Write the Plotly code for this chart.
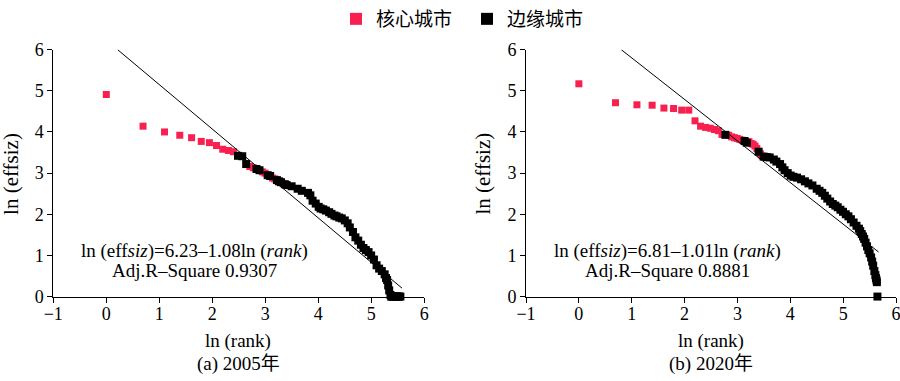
import numpy as np
import plotly.graph_objects as go

# ---------------- data ----------------
# 2005 panel: rank of city and ln(effsiz)
core_2005_rank = [1, 2, 3, 4, 5, 6, 7, 8, 9, 10, 11, 15, 16, 19, 20, 23, 24, 28]
core_2005_val = [4.91, 4.14, 4.00, 3.92, 3.86, 3.77, 3.74, 3.67, 3.58, 3.55, 3.52,
                 3.16, 3.13, 3.03, 3.00, 2.88, 2.86, 2.75]

edge_2005_rank = [12, 13, 14, 17, 18, 21, 22, 25, 26, 27, 29, 30, 33, 37, 40, 45, 47, 49,
                  52, 55, 57, 60, 63, 67, 70, 74, 77, 81, 85, 90, 95, 99, 105, 110, 116,
                  122, 128, 134, 141, 148, 156, 164, 172, 181, 191, 196, 200, 204, 208,
                  213, 216, 220, 225, 230, 235, 240, 245, 250, 257]
edge_2005_val = [3.42, 3.41, 3.22, 3.10, 3.07, 2.95, 2.93, 2.83, 2.80, 2.78, 2.73, 2.71,
                 2.68, 2.62, 2.57, 2.52, 2.46, 2.33, 2.26, 2.18, 2.14, 2.12, 2.09, 2.05,
                 2.01, 1.97, 1.95, 1.92, 1.90, 1.85, 1.78, 1.68, 1.57, 1.44, 1.36, 1.26,
                 1.18, 1.13, 1.08, 1.00, 0.90, 0.76, 0.68, 0.62, 0.54, 0.45, 0.40, 0.27,
                 0.15, 0.04, 0.0, 0.0, 0.0, 0.0, 0.0, 0.0, 0.0, 0.0, 0.0]

# 2020 panel
core_2020_rank = [1, 2, 3, 4, 5, 6, 7, 8, 9, 10, 11, 12, 13, 14, 15, 17, 18, 19, 20, 21,
                  22, 25, 26, 27, 28, 29, 31, 32]
core_2020_val = [5.17, 4.71, 4.66, 4.65, 4.58, 4.57, 4.53, 4.53, 4.27, 4.14, 4.11, 4.09,
                 4.06, 4.03, 3.94, 3.92, 3.88, 3.86, 3.84, 3.82, 3.80, 3.76, 3.72, 3.70,
                 3.66, 3.60, 3.47, 3.42]

edge_2020_rank = [16, 23, 24, 30, 33, 35, 37, 40, 42, 45, 47, 49, 52, 55, 58, 62, 67, 72,
                  77, 83, 90, 95, 100, 105, 110, 116, 122, 128, 134, 141, 148, 156, 164,
                  172, 181, 191, 200, 205, 211, 216, 221, 227, 233, 239, 245, 252, 257,
                  262, 268, 273, 276, 279, 281, 284]
edge_2020_val = [3.93, 3.78, 3.74, 3.52, 3.40, 3.39, 3.38, 3.33, 3.28, 3.22, 3.14, 3.07,
                 3.00, 2.94, 2.91, 2.89, 2.85, 2.80, 2.75, 2.70, 2.62, 2.57, 2.52, 2.45,
                 2.38, 2.31, 2.25, 2.21, 2.17, 2.11, 2.06, 2.00, 1.95, 1.88, 1.80, 1.72,
                 1.65, 1.59, 1.52, 1.46, 1.40, 1.31, 1.22, 1.13, 1.05, 0.95, 0.85, 0.75,
                 0.62, 0.52, 0.45, 0.40, 0.35, 0.0]

# fitted regressions: ln(effsiz) = a + b ln(rank), drawn over the shown x span
fit_intercept = [6.23, 6.81]
fit_slope = [-1.08, -1.01]
fit_x_span = [[0.21, 5.58], [0.80, 5.67]]
fit_r2 = ["0.9307", "0.8881"]
panel_labels = ["(a) 2005年", "(b) 2020年"]
series_names = ["核心城市", "边缘城市"]

RED = "#F7204F"
BLACK = "#000000"
SERIF = "Liberation Serif"
SERIF_CJK = "Liberation Serif, Noto Sans CJK SC"
CJK = "Noto Sans CJK SC"

W, H = 900, 381
def px(x):
    return x / W
def py(y):
    return 1 - y / H

fig = go.Figure()

panels = [
    (core_2005_rank, core_2005_val, edge_2005_rank, edge_2005_val),
    (core_2020_rank, core_2020_val, edge_2020_rank, edge_2020_val),
]

for i, (cr, cv, er, ev) in enumerate(panels):
    xa = "x" if i == 0 else "x2"
    ya = "y" if i == 0 else "y2"
    fig.add_trace(go.Scatter(
        x=np.log(cr), y=cv, mode="markers", name=series_names[0],
        marker=dict(symbol="square", size=7, color=RED, line=dict(width=0)),
        xaxis=xa, yaxis=ya, showlegend=(i == 0), legendgroup="core",
        cliponaxis=False))
    fig.add_trace(go.Scatter(
        x=np.log(er), y=ev, mode="markers", name=series_names[1],
        marker=dict(symbol="square", size=8, color=BLACK, line=dict(width=0)),
        xaxis=xa, yaxis=ya, showlegend=(i == 0), legendgroup="edge",
        cliponaxis=False))
    xs = np.array(fit_x_span[i])
    fig.add_trace(go.Scatter(
        x=xs, y=fit_intercept[i] + fit_slope[i] * xs, mode="lines",
        line=dict(color=BLACK, width=1), xaxis=xa, yaxis=ya,
        showlegend=False, cliponaxis=False, hoverinfo="skip"))

axis_common = dict(
    showgrid=False, zeroline=False, showline=True, linecolor="black", linewidth=1,
    ticks="outside", ticklen=5, tickcolor="black", tickwidth=1, automargin=False,
    tickfont=dict(family=SERIF, size=18, color="black"), dtick=1,
    ticklabeloverflow="allow",
)
ydom = [py(294.3), py(40.7)]
fig.update_layout(
    xaxis=dict(domain=[px(53.3), px(424.3)], range=[-1, 6], anchor="y",
               ticklabelstandoff=-4, **axis_common),
    yaxis=dict(domain=ydom, range=[0, 6], anchor="x", **axis_common),
    xaxis2=dict(domain=[px(526), px(896)], range=[-1, 6], anchor="y2",
                ticklabelstandoff=-4, **axis_common),
    yaxis2=dict(domain=ydom, range=[0, 6], anchor="x2", **axis_common),
)

annotations = []
x_offsets = [53.3, 526]
for i in range(2):
    x0 = x_offsets[i]
    annotations.append(dict(
        text="ln (effsiz)", x=px(x0 - 43), y=py(168), xref="paper", yref="paper",
        showarrow=False, textangle=-90, font=dict(family=SERIF, size=21, color="black"),
        xanchor="center", yanchor="middle"))
    annotations.append(dict(
        text="ln (rank)", x=px(x0 + 185), y=py(340), xref="paper", yref="paper",
        showarrow=False, font=dict(family=SERIF, size=19, color="black"),
        xanchor="center", yanchor="middle"))
    annotations.append(dict(
        text=panel_labels[i], x=px(x0 + 185), y=py(364), xref="paper", yref="paper",
        showarrow=False, font=dict(family=SERIF_CJK, size=19, color="black"),
        xanchor="center", yanchor="middle"))
    a = f"{fit_intercept[i]:.2f}"
    b = f"{abs(fit_slope[i]):.2f}"
    annotations.append(dict(
        text=f"ln (eff<i>siz</i>)={a}–{b}ln (<i>rank</i>)", x=px(x0 + 141), y=py(248),
        xref="paper", yref="paper", showarrow=False,
        font=dict(family=SERIF, size=19, color="black"), xanchor="center", yanchor="middle"))
    annotations.append(dict(
        text=f"Adj.R–Square {fit_r2[i]}", x=px(x0 + 141), y=py(268),
        xref="paper", yref="paper", showarrow=False,
        font=dict(family=SERIF, size=19, color="black"), xanchor="center", yanchor="middle"))

fig.update_layout(
    annotations=annotations,
    width=W, height=H,
    margin=dict(l=0, r=0, t=0, b=0),
    paper_bgcolor="white", plot_bgcolor="white",
    showlegend=True,
    legend=dict(orientation="h", x=px(336), xanchor="left", y=py(9), yanchor="middle",
                font=dict(family=CJK, size=19, color="black"),
                entrywidth=86, entrywidthmode="pixels",
                bgcolor="rgba(0,0,0,0)", itemsizing="constant"),
)

fig.write_html("out.html", config={"displayModeBar": False},
               post_script="document.body.style.margin='0';document.body.style.overflow='hidden';")
